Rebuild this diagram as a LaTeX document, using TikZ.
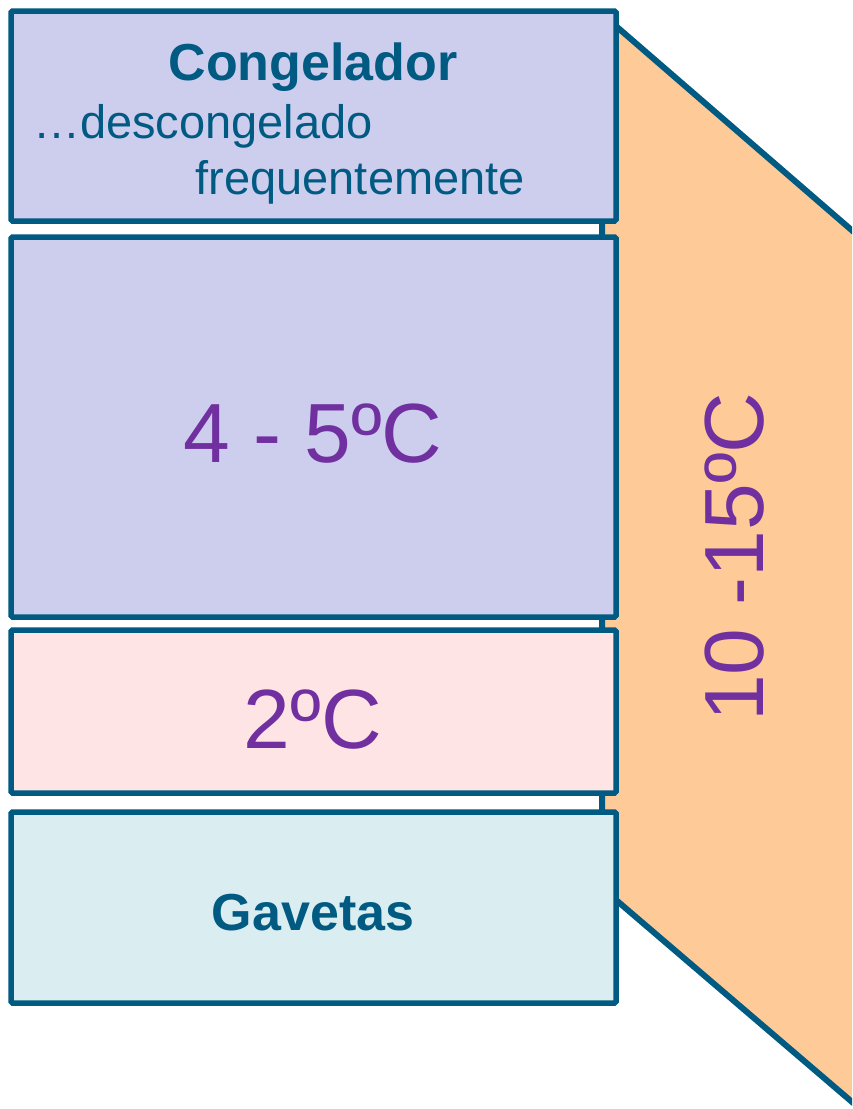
\documentclass[tikz,border=0pt]{standalone}
\usepackage{fontspec}
\setmainfont{Liberation Sans}
\usetikzlibrary{positioning}
\definecolor{rim}{RGB}{0,90,130}
\definecolor{cold}{RGB}{205,206,238}
\definecolor{chill}{RGB}{255,228,230}
\definecolor{drawer}{RGB}{218,237,241}
\definecolor{door}{RGB}{253,202,152}
\definecolor{temp}{RGB}{112,48,160}
\begin{document}
\begin{tikzpicture}[x=1pt,y=-1pt,
    shelf/.style={draw=rim,line width=5.5pt,rounded corners=1.5pt,inner sep=0pt,minimum width=605pt},
    big/.style={text=temp,font=\fontsize{84}{84}\selectfont,inner sep=0pt},
    head/.style={text=rim,font=\fontsize{52}{52}\selectfont\bfseries,inner sep=0pt},
    note/.style={text=rim,font=\fontsize{47}{47}\selectfont,inner sep=0pt}]
\useasboundingbox (0,0) rectangle (852,1109);
\begin{scope}
  \clip (0,0) rectangle (852,1109);
  \draw[rim,line width=6pt,line join=round,fill=door] (602,14) -- (900,272) -- (900,1143) -- (602,888) -- cycle;
\end{scope}
\node[shelf,fill=cold,minimum height=210pt] (freezer) at (313.5,116) {};
\node[shelf,fill=cold,minimum height=380pt] (fridge) at (313.5,427) {};
\node[shelf,fill=chill,minimum height=163pt] (chiller) at (313.5,711.5) {};
\node[shelf,fill=drawer,minimum height=191pt] (drawers) at (313.5,907.5) {};
\node[head,anchor=base] (freezername) at (313,80) {Congelador};
\node[note,anchor=base west] (defrost1) at (33,138) {…descongelado};
\node[note,anchor=base east] (defrost2) at (525,194) {frequentemente};
\node[big,anchor=base] (fridgetemp) at (313,462) {4 - 5ºC};
\node[big,anchor=base] (chilltemp) at (313,748) {2ºC};
\node[head,anchor=base] (drawername) at (313,930) {Gavetas};
\node[big,anchor=base,rotate=90] (doortemp) at (763,557) {10 -15ºC};
\end{tikzpicture}
\end{document}
